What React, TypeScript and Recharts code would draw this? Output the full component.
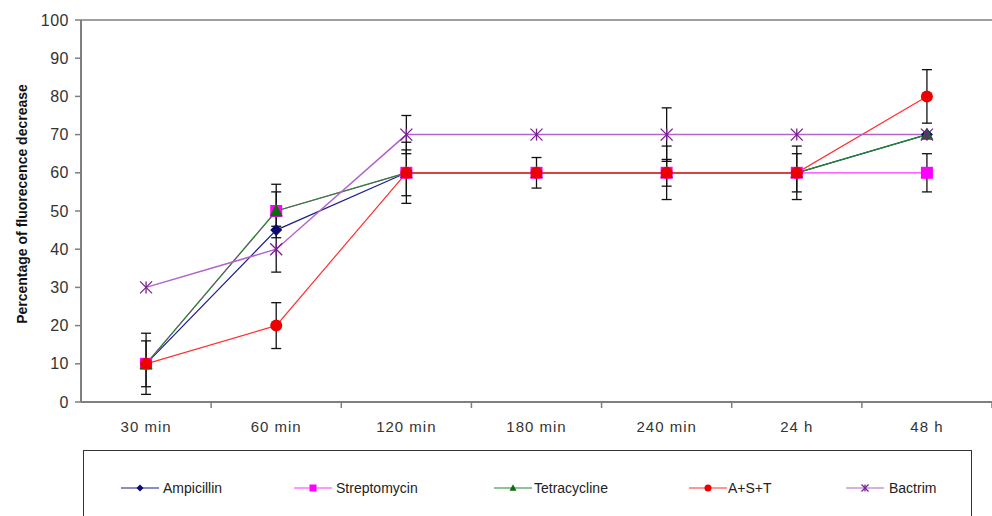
import React from 'react';
import { LineChart, Line, XAxis, YAxis, ErrorBar, Legend, ReferenceLine } from 'recharts';

const categories = ['30 min', '60 min', '120 min', '180 min', '240 min', '24 h', '48 h'];
const ampicillin = [10, 45, 60, 60, 60, 60, 70];
const streptomycin = [10, 50, 60, 60, 60, 60, 60];
const tetracycline = [10, 50, 60, 60, 60, 60, 70];
const ast = [10, 20, 60, 60, 60, 60, 80];
const bactrim = [30, 40, 70, 70, 70, 70, 70];

const ampicillinErr = [8, null, 8, null, null, null, null];
const streptomycinErr = [null, 7, null, null, 3.5, 5, 5];
const tetracyclineErr = [null, 5, null, null, null, null, null];
const astErr = [6, 6, 6, 4, 7, 7, 7];
const bactrimErr = [null, 6, 5, null, 7, null, null];

const yTicks = [0, 10, 20, 30, 40, 50, 60, 70, 80, 90, 100];

const data = categories.map((c, i) => ({
  name: c,
  amp: ampicillin[i],
  ampErr: ampicillinErr[i],
  strep: streptomycin[i],
  strepErr: streptomycinErr[i],
  tet: tetracycline[i],
  tetErr: tetracyclineErr[i],
  ast: ast[i],
  astErr: astErr[i],
  bac: bactrim[i],
  bacErr: bactrimErr[i],
}));

const W = 992;
const H = 516;
const M = { top: 20, right: 0, left: 0, bottom: 84 };
const YW = 81;
const BAND = (W - M.left - M.right - YW) / categories.length;
const FONT = 'Arial, "Liberation Sans", sans-serif';
const AXIS = '#7f7f7f';

const C = {
  amp: '#1b1b8a',
  ampMk: '#0a0a70',
  strep: '#ff33ff',
  strepMk: '#ff00ff',
  tet: '#1f8a2a',
  tetMk: '#0f6a0f',
  ast: '#ff3030',
  astMk: '#ee0000',
  bac: '#b064cc',
  bacMk: '#7a1f8f',
};

type Kind = 'diamond' | 'square' | 'triangle' | 'circle' | 'star';

const Marker = ({ cx, cy, kind, color, s }: { cx: number; cy: number; kind: Kind; color: string; s: number }) => {
  if (cx == null || cy == null) return null;
  if (kind === 'diamond')
    return <polygon points={`${cx},${cy - s} ${cx + s},${cy} ${cx},${cy + s} ${cx - s},${cy}`} fill={color} />;
  if (kind === 'square') return <rect x={cx - s} y={cy - s} width={2 * s} height={2 * s} fill={color} />;
  if (kind === 'triangle')
    return <polygon points={`${cx},${cy - s * 1.1} ${cx + s},${cy + s * 0.8} ${cx - s},${cy + s * 0.8}`} fill={color} />;
  if (kind === 'circle') return <circle cx={cx} cy={cy} r={s} fill={color} />;
  return (
    <g stroke={color} strokeWidth={1.3}>
      <line x1={cx - s} y1={cy - s} x2={cx + s} y2={cy + s} />
      <line x1={cx - s} y1={cy + s} x2={cx + s} y2={cy - s} />
      <line x1={cx} y1={cy - s} x2={cx} y2={cy + s} />
    </g>
  );
};

const makeDot = (kind: Kind, color: string, s: number) => (props: any) => (
  <Marker key={`${kind}-${props.index}`} cx={props.cx} cy={props.cy} kind={kind} color={color} s={s} />
);

const XTick = (props: any) => {
  const { x, y, payload } = props;
  return (
    <g>
      <line x1={x + BAND / 2} y1={y} x2={x + BAND / 2} y2={y + 6} stroke={AXIS} strokeWidth={1.5} />
      <text x={x} y={y + 30} textAnchor="middle" fontSize={15} letterSpacing={1} fill="#333" fontFamily={FONT}>
        {payload.value}
      </text>
    </g>
  );
};

const legendItems: { label: string; kind: Kind; line: string; mk: string; iconX: number; textX: number }[] = [
  { label: 'Ampicillin', kind: 'diamond', line: C.amp, mk: C.ampMk, iconX: 37, textX: 79 },
  { label: 'Streptomycin', kind: 'square', line: C.strep, mk: C.strepMk, iconX: 210, textX: 252 },
  { label: 'Tetracycline', kind: 'triangle', line: C.tet, mk: C.tetMk, iconX: 410, textX: 450 },
  { label: 'A+S+T', kind: 'circle', line: C.ast, mk: C.astMk, iconX: 605, textX: 644 },
  { label: 'Bactrim', kind: 'star', line: C.bac, mk: C.bacMk, iconX: 762, textX: 805 },
];

const renderLegend = () => (
  <div
    style={{
      position: 'relative',
      width: 889,
      height: 80,
      border: '1.5px solid #333',
      boxSizing: 'border-box',
      background: '#fff',
      fontFamily: FONT,
    }}
  >
    {legendItems.map((it) => (
      <React.Fragment key={it.label}>
        <svg style={{ position: 'absolute', left: it.iconX, top: 31 }} width={40} height={12}>
          <line x1={0} y1={6} x2={38} y2={6} stroke={it.line} strokeWidth={1.2} />
          <Marker cx={19} cy={6} kind={it.kind} color={it.mk} s={3.5} />
        </svg>
        <span
          style={{
            position: 'absolute',
            left: it.textX,
            top: 28,
            fontSize: 14,
            color: '#222',
            whiteSpace: 'nowrap',
            lineHeight: '18px',
          }}
        >
          {it.label}
        </span>
      </React.Fragment>
    ))}
  </div>
);

const YLabel = (props: any) => {
  const vb = props.viewBox || { x: 0, y: 20, width: 81, height: 382 };
  const cx = vb.x + 22;
  const cy = vb.y + vb.height / 2 - 7;
  return (
    <text
      x={cx}
      y={cy}
      transform={`rotate(-90 ${cx} ${cy})`}
      textAnchor="middle"
      dominantBaseline="central"
      fontSize={14}
      fontWeight="bold"
      fill="#111"
      fontFamily={FONT}
    >
      Percentage of fluorecence decrease
    </text>
  );
};

export default function App() {
  return (
    <div style={{ position: 'absolute', left: 0, top: 0, width: W, height: H, overflow: 'hidden', background: '#fff' }}>
      <LineChart width={W} height={H} data={data} margin={M}>
        <XAxis
          dataKey="name"
          height={30}
          tickLine={false}
          tickSize={0}
          tickMargin={0}
          interval={0}
          padding={{ left: BAND / 2, right: BAND / 2 }}
          tick={<XTick />}
          axisLine={{ stroke: AXIS, strokeWidth: 2 }}
        />
        <YAxis
          width={YW}
          domain={[0, 100]}
          ticks={yTicks}
          interval={0}
          tickSize={6}
          tickMargin={6}
          tickLine={{ stroke: AXIS, strokeWidth: 1.5 }}
          axisLine={{ stroke: AXIS, strokeWidth: 2 }}
          tick={{ fontSize: 16, fill: '#333', fontFamily: FONT, letterSpacing: 0.5 }}
          label={<YLabel />}
        />
        <ReferenceLine y={100} stroke={AXIS} strokeWidth={1.5} />
        <Line dataKey="amp" stroke={C.amp} strokeWidth={1.2} dot={makeDot('diamond', C.ampMk, 6)} activeDot={false} isAnimationActive={false}>
          <ErrorBar dataKey="ampErr" width={5} stroke="#111" strokeWidth={1.3} direction="y" />
        </Line>
        <Line dataKey="strep" stroke={C.strep} strokeWidth={1.2} dot={makeDot('square', C.strepMk, 6)} activeDot={false} isAnimationActive={false}>
          <ErrorBar dataKey="strepErr" width={5} stroke="#111" strokeWidth={1.3} direction="y" />
        </Line>
        <Line dataKey="tet" stroke={C.tet} strokeWidth={1.2} dot={makeDot('triangle', C.tetMk, 6.5)} activeDot={false} isAnimationActive={false}>
          <ErrorBar dataKey="tetErr" width={5} stroke="#111" strokeWidth={1.3} direction="y" />
        </Line>
        <Line dataKey="ast" stroke={C.ast} strokeWidth={1.2} dot={makeDot('circle', C.astMk, 6)} activeDot={false} isAnimationActive={false}>
          <ErrorBar dataKey="astErr" width={5} stroke="#111" strokeWidth={1.3} direction="y" />
        </Line>
        <Line dataKey="bac" stroke={C.bac} strokeWidth={1.5} dot={makeDot('star', C.bacMk, 6)} activeDot={false} isAnimationActive={false}>
          <ErrorBar dataKey="bacErr" width={5} stroke="#111" strokeWidth={1.3} direction="y" />
        </Line>
        <Legend
          verticalAlign="middle"
          layout="horizontal"
          content={renderLegend}
          wrapperStyle={{ top: 450, left: 83, width: 889, height: 80 }}
        />
      </LineChart>
    </div>
  );
}
